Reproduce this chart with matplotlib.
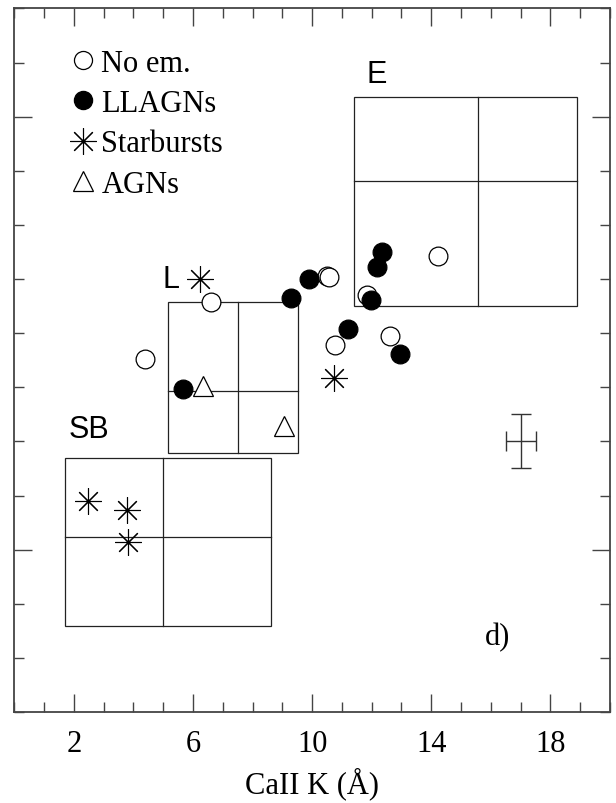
import matplotlib
matplotlib.use('Agg')
import matplotlib.pyplot as plt
from matplotlib.lines import Line2D
from matplotlib.patches import Rectangle
from matplotlib.ticker import MultipleLocator, NullFormatter

SERIF = 'Liberation Serif'
SANS = 'Liberation Sans'

# galaxies, CaII K width vs. second index
noem_x = [10.51, 10.58, 14.21, 11.83, 6.59, 4.40, 10.76, 12.62]
noem_y = [5.06, 5.04, 5.43, 4.70, 4.58, 3.52, 3.79, 3.94]

llagn_x = [12.34, 12.17, 11.98, 9.89, 9.30, 11.21, 12.95, 5.67]
llagn_y = [5.50, 5.22, 4.62, 5.00, 4.65, 4.07, 3.62, 2.97]

sb_x = [6.23, 10.73, 2.48, 3.77, 3.82]
sb_y = [5.00, 3.18, 0.89, 0.73, 0.14]

agn_x = [6.32, 9.07]
agn_y = [3.03, 2.29]

# template regions: name, x range, x split, y range, y split
box_names = ['E', 'L', 'SB']
box_x0 = [11.42, 5.15, 1.70]
box_x1 = [18.91, 9.54, 8.61]
box_xm = [15.56, 7.50, 4.98]
box_y0 = [4.50, 1.79, -1.41]
box_y1 = [8.36, 4.58, 1.69]
box_ym = [6.82, 2.93, 0.23]
box_label_x = [11.81, 4.98, 1.83]
box_label_y = [8.64, 4.86, 2.08]

# typical error
err_x, err_y = 17.0, 2.0
err_dx, err_dy = 0.5, 0.5

fig = plt.figure(figsize=(6.16, 8.04), dpi=100)
ax = fig.add_axes([0.0232, 0.1132, 0.9670, 0.8750])

for i in range(len(box_names)):
    ax.add_patch(Rectangle((box_x0[i], box_y0[i]), box_x1[i] - box_x0[i],
                           box_y1[i] - box_y0[i], fill=False, lw=0.9,
                           ec='#222222', zorder=1))
    ax.plot([box_xm[i], box_xm[i]], [box_y0[i], box_y1[i]], color='#222222',
            lw=0.9, zorder=1)
    ax.plot([box_x0[i], box_x1[i]], [box_ym[i], box_ym[i]], color='#222222',
            lw=0.9, zorder=1)
    ax.text(box_label_x[i], box_label_y[i], box_names[i], family=SANS,
            fontsize=22, ha='left', va='baseline')

star = (8, 2, 0)
ax.plot(noem_x, noem_y, 'o', ms=13.5, mfc='white', mec='black', mew=0.9,
        zorder=3)
ax.plot(llagn_x, llagn_y, 'o', ms=13.5, mfc='black', mec='black', mew=0.9,
        zorder=4)
ax.plot(sb_x, sb_y, ls='none', marker=star, ms=19, mec='black', mew=0.8,
        zorder=3)
ax.plot(agn_x, agn_y, ls='none', marker='^', ms=15, mfc='white', mec='black',
        mew=0.9, zorder=3)

ax.errorbar([err_x], [err_y], xerr=[err_dx], yerr=[err_dy], fmt='none',
            ecolor='#333333', elinewidth=1.0, capsize=7, capthick=1.0)

ax.text(15.81, -1.74, 'd)', family=SERIF, fontsize=22, ha='left',
        va='baseline')

handles = [
    Line2D([], [], ls='none', marker='o', ms=13, mfc='white', mec='black',
           mew=0.9),
    Line2D([], [], ls='none', marker='o', ms=13, mfc='black', mec='black'),
    Line2D([], [], ls='none', marker=star, ms=19, mec='black', mew=0.8),
    Line2D([], [], ls='none', marker='^', ms=15, mfc='white', mec='black',
           mew=0.9),
]
labels = ['No em.', 'LLAGNs', 'Starbursts', 'AGNs']
ax.legend(handles, labels, loc='upper left', bbox_to_anchor=(0.0896, 0.943),
          frameon=False, handlelength=1.0, handletextpad=0.1,
          borderpad=0, borderaxespad=0, labelspacing=0.37,
          prop={'family': SERIF, 'size': 22})

ax.set_xlim(0, 20)
ax.set_ylim(-3, 10)
ax.xaxis.set_major_locator(MultipleLocator(4, offset=2))
ax.xaxis.set_minor_locator(MultipleLocator(1))
ax.yaxis.set_major_locator(MultipleLocator(8))
ax.yaxis.set_minor_locator(MultipleLocator(1))
ax.yaxis.set_major_formatter(NullFormatter())
ax.tick_params(which='both', direction='in', top=True, right=True,
               color='#444444', width=1.0)
ax.tick_params(which='major', length=13, pad=12)
ax.tick_params(which='minor', length=7)
for lab in ax.get_xticklabels():
    lab.set_family(SERIF)
    lab.set_fontsize(22)
for sp in ax.spines.values():
    sp.set_linewidth(1.3)
    sp.set_color('#444444')

ax.set_xlabel('CaII K (\u00c5)', family=SERIF, fontsize=22, labelpad=6)

fig.savefig('out.png', dpi=100)
